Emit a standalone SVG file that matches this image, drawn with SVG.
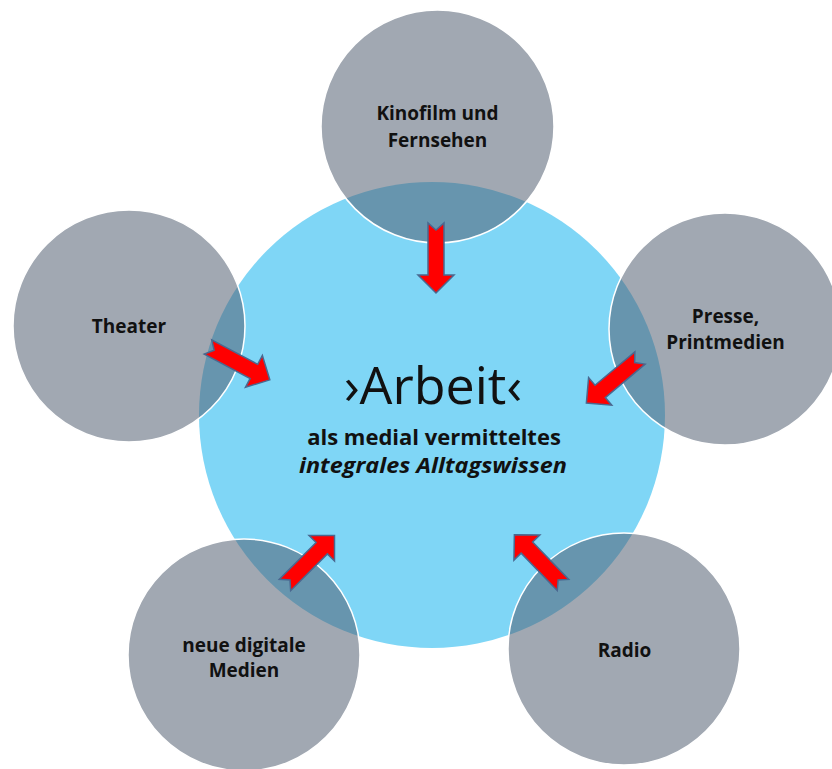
<svg xmlns="http://www.w3.org/2000/svg" width="832" height="769" viewBox="0 0 832 769">
<defs>
<style>
.outer{fill:#546173;fill-opacity:0.55;stroke:#ffffff;stroke-width:1.5}
.lbl{font-family:"Open Sans","Noto Sans",sans-serif;font-weight:bold;font-size:19px;fill:#111111;text-anchor:middle}
.arr{fill:#ff0000;stroke:#4a6890;stroke-width:1.5;stroke-linejoin:miter}
.ctr{font-family:"Open Sans","Noto Sans",sans-serif;fill:#111111;text-anchor:middle}
</style>
<path id="ar" d="M0,-8 L52,-8 L52,-18 L70,0 L52,18 L52,8 L0,8 L7,0 Z"/>
</defs>
<rect width="832" height="769" fill="#ffffff"/>
<g id="center">
<circle cx="432" cy="415" r="233" fill="#7fd6f6"/>
</g>
<g id="kino">
<circle class="outer" cx="437.5" cy="126.5" r="116.5"/>
<text class="lbl" x="437.5" y="120">Kinofilm und</text>
<text class="lbl" x="437.5" y="147">Fernsehen</text>
</g>
<g id="theater">
<circle class="outer" cx="129" cy="326" r="116"/>
<text class="lbl" x="129" y="333">Theater</text>
</g>
<g id="presse">
<circle class="outer" cx="725" cy="329" r="116"/>
<text class="lbl" x="725.5" y="323">Presse,</text>
<text class="lbl" x="725.5" y="349">Printmedien</text>
</g>
<g id="digital">
<circle class="outer" cx="244" cy="655" r="116"/>
<text class="lbl" x="244" y="652">neue digitale</text>
<text class="lbl" x="244" y="677">Medien</text>
</g>
<g id="radio">
<circle class="outer" cx="624" cy="649" r="116"/>
<text class="lbl" x="624.5" y="657">Radio</text>
</g>
<g id="connectors">
<use href="#ar" class="arr" transform="translate(436,223) rotate(90)"/>
<use href="#ar" class="arr" transform="translate(208,347) rotate(28)"/>
<use href="#ar" class="arr" transform="translate(640,358) rotate(140)"/>
<use href="#ar" class="arr" transform="translate(285,585) rotate(-45)"/>
<use href="#ar" class="arr" transform="translate(563,585) rotate(-134)"/>
</g>
<g id="center-text">
<text class="ctr" x="433" y="404" font-size="52">›Arbeit‹</text>
<text class="ctr" x="434" y="445" font-size="22" font-weight="bold">als medial vermitteltes</text>
<text class="ctr" x="433" y="473" font-size="22" font-weight="bold" font-style="italic" textLength="268" lengthAdjust="spacingAndGlyphs">integrales Alltagswissen</text>
</g>
</svg>
